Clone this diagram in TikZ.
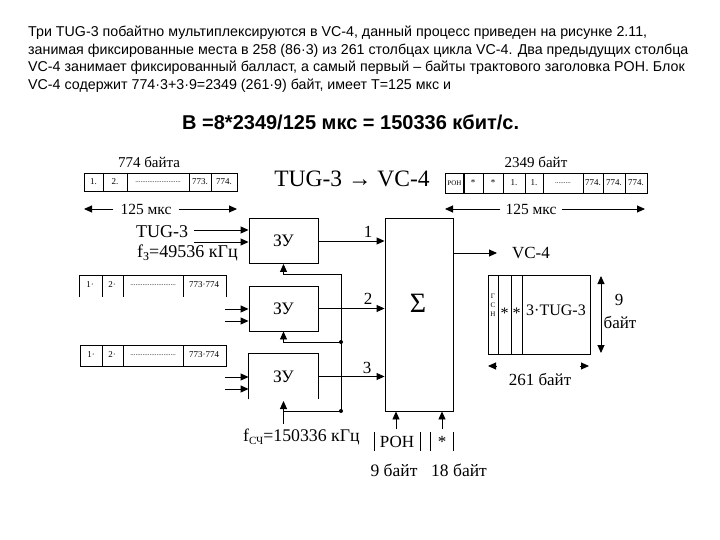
\documentclass[tikz,border=0pt]{standalone}
\usepackage{fontspec}
\setmainfont{Liberation Serif}
\newfontfamily\arialf{Liberation Sans}
\usetikzlibrary{arrows.meta}
\begin{document}
\begin{tikzpicture}[x=1pt,y=-1pt,
  ln/.style={line width=0.9pt},
  arr/.style={ln,-{Triangle[length=8pt,width=7pt]}},
  dar/.style={ln,{Triangle[length=8pt,width=7pt]}-{Triangle[length=8pt,width=7pt]}},
  para/.style={anchor=west,inner sep=0pt,font=\arialf\fontsize{14.25}{14.25}\selectfont},
  lbl/.style={inner sep=0pt,font=\fontsize{17}{17}\selectfont},
  big/.style={inner sep=0pt,font=\fontsize{18}{18}\selectfont},
  cell/.style={inner sep=0pt,font=\fontsize{9}{9}\selectfont},
  tiny/.style={inner sep=0pt,font=\fontsize{7}{7}\selectfont},
  zu/.style={ln,minimum width=69pt,minimum height=45pt,inner sep=0pt,font=\fontsize{17.5}{17.5}\selectfont}]
\useasboundingbox (0,0) rectangle (720,540);
\fill[white] (0,0) rectangle (720,540);
% paragraph
\node[para] (p1) at (28,33) {Три TUG-3 побайтно мультиплексируются в VC-4, данный процесс приведен на рисунке 2.11,};
\node[para] (p2) at (28,50.5) {занимая фиксированные места в 258 (86·3) из 261 столбцах цикла VC-4. Два предыдущих столбца};
\node[para] (p3) at (28,68) {VC-4 занимает фиксированный балласт, а самый первый – байты трактового заголовка POH. Блок};
\node[para] (p4) at (28,85.5) {VC-4 содержит 774·3+3·9=2349 (261·9) байт, имеет T=125 мкс и};
\node[anchor=west,inner sep=0pt,font=\arialf\bfseries\fontsize{20}{20}\selectfont] (bw) at (182,122) {В =8*2349/125 мкс = 150336 кбит/с.};
% title
\node[inner sep=0pt,font=\fontsize{23.5}{23.5}\selectfont] (ttl) at (352,179) {TUG-3 → VC-4};
% left top frame
\node[lbl,font=\fontsize{15}{15}\selectfont] (l774) at (149,162) {774 байта};
\draw[ln] (84,173) rectangle (237,191);
\foreach \x in {103,127,189,211} \draw[ln] (\x,173) -- (\x,191);
\node[cell] (c11) at (93.5,182) {1.};
\node[cell] (c12) at (115,182) {2.};
\node[tiny] (c13) at (158,182) {..........................};
\node[cell] (c14) at (200,182) {773.};
\node[cell] (c15) at (224,182) {774.};
\node[lbl,font=\fontsize{15.5}{15.5}\selectfont] (t125a) at (146,209) {125 мкс};
\coordinate (a1l) at (84,209); \coordinate (a1r) at (237,209);
\draw[arr] (t125a.west) ++(-7,0) -- (a1l);
\draw[arr] (t125a.east) ++(7,0) -- (a1r);
% right top frame
\node[lbl,font=\fontsize{15}{15}\selectfont] (l2349) at (536,162) {2349 байт};
\draw[ln] (445,173) rectangle (647,193);
\draw[line width=2pt] (464,173) -- (464,193);
\foreach \x in {483,503,525,543,583,603,625} \draw[ln] (\x,173) -- (\x,193);
\node[tiny] (r1) at (454.5,183) {РОН};
\node[cell] (r2) at (473,183) {*};
\node[cell] (r3) at (493,183) {*};
\node[cell] (r4) at (514,183) {1.};
\node[cell] (r5) at (534,183) {1.};
\node[tiny] (r6) at (563,183) {.........};
\node[cell] (r7) at (593,183) {774.};
\node[cell] (r8) at (614,183) {774.};
\node[cell] (r9) at (636,183) {774.};
\node[lbl,font=\fontsize{15.5}{15.5}\selectfont] (t125b) at (531,209) {125 мкс};
\coordinate (a2l) at (445,209); \coordinate (a2r) at (645,209);
\draw[arr] (t125b.west) ++(-5,0) -- (a2l);
\draw[arr] (t125b.east) ++(5,0) -- (a2r);
% TUG-3 labels
\node[big,anchor=west] (tug) at (136,232) {TUG-3};
\node[big,anchor=west] (f3) at (137,253) {f\raisebox{-0.35ex}{\fontsize{12}{12}\selectfont З}=49536 кГц};
% frames 2 and 3
\draw[ln] (79,297) -- (79,275) -- (226,275) -- (226,297);
\foreach \x in {102,123,183} \draw[ln] (\x,275) -- (\x,297);
\node[cell] (d21) at (90,285) {1·};
\node[cell] (d22) at (112,285) {2·};
\node[tiny] (d23) at (153,285) {..........................};
\node[cell] (d24) at (204,285) {773·774};
\draw[ln] (80,345) rectangle (226,366);
\foreach \x in {102,123,183} \draw[ln] (\x,345) -- (\x,366);
\node[cell] (d31) at (91,355) {1·};
\node[cell] (d32) at (112,355) {2·};
\node[tiny] (d33) at (153,355) {..........................};
\node[cell] (d34) at (204,355) {773·774};
% memory blocks
\node[zu,draw] (zu1) at (283.5,241) {ЗУ};
\node[zu,draw] (zu2) at (283.5,308.5) {ЗУ};
\node[zu] (zu3) at (283.5,376.5) {ЗУ};
\draw[ln] (zu3.south west) -- (zu3.north west) -- (zu3.north east) -- (zu3.south east);
% sum block
\node[draw,ln,minimum width=68pt,minimum height=193pt,inner sep=0pt] (sum) at (419,314.5) {};
\node[inner sep=0pt,font=\fontsize{28}{28}\selectfont] (sig) at (418,303) {Σ};
% inputs
\coordinate (i1a) at (194,230); \coordinate (i1b) at (194,242);
\coordinate (i2a) at (225,309); \coordinate (i2b) at (225,321);
\coordinate (i3a) at (225,377); \coordinate (i3b) at (225,389);
\foreach \c in {i1a,i1b} \draw[arr] (\c) -- (\c -| zu1.west);
\foreach \c in {i2a,i2b} \draw[arr] (\c) -- (\c -| zu2.west);
\foreach \c in {i3a,i3b} \draw[arr] (\c) -- (\c -| zu3.west);
% outputs
\draw[arr] (zu1.east) -- (zu1.east -| sum.west);
\draw[arr] (zu2.east) -- (zu2.east -| sum.west);
\draw[arr] (zu3.east) -- (zu3.east -| sum.west);
\node[lbl] (n1) at (368,232) {1};
\node[lbl] (n2) at (368,299) {2};
\node[lbl] (n3) at (367,368) {3};
% clock
\coordinate (ck) at (341,274); \coordinate (j2) at (341,342); \coordinate (j3) at (341,411);
\coordinate (fc) at (283.5,424);
\draw[ln] (ck) -- (j3);
\draw[arr] (ck) -| (zu1.south);
\draw[arr] (j2) -| (zu2.south);
\draw[ln] (j3) -- (j3 -| fc);
\draw[arr] (fc) -- ++(0,-23);
\fill (j2) circle (2pt);
\fill (j3) circle (2pt);
\node[lbl,anchor=west,font=\fontsize{17.8}{17.8}\selectfont] (fcl) at (243,437) {f\raisebox{-0.35ex}{\fontsize{11}{11}\selectfont СЧ}=150336 кГц};
% POH and stuffing inputs
\draw[ln] (374,432) -- (374,451);
\draw[ln] (420,432) -- (420,451);
\node[lbl] (poh) at (397,442) {РОН};
\draw[ln] (430,432) -- (430,451);
\draw[ln] (453,432) -- (453,451);
\node[lbl] (st) at (442,442) {*};
\coordinate (ph) at (396,429); \coordinate (sp) at (442,429);
\draw[arr] (ph) -- (ph |- sum.south);
\draw[arr] (sp) -- (sp |- sum.south);
\node[lbl,font=\fontsize{17.5}{17.5}\selectfont] (b9) at (394,470) {9 байт};
\node[lbl,font=\fontsize{17.5}{17.5}\selectfont] (b18) at (459,470) {18 байт};
% VC-4 output
\coordinate (vo) at (497,253);
\draw[arr] (sum.east |- vo) -- (vo);
\node[lbl] (vc4) at (531,253) {VC-4};
% VC-4 structure
\draw[ln] (488,275) rectangle (590,354);
\foreach \x in {498,511,522} \draw[ln] (\x,275) -- (\x,354);
\node[tiny] (g1) at (493,296) {Г};
\node[tiny] (g2) at (493,305) {С};
\node[tiny] (g3) at (493,314) {Н};
\node[lbl,font=\fontsize{16}{16}\selectfont] (s1) at (504.5,313) {*};
\node[lbl,font=\fontsize{16}{16}\selectfont] (s2) at (516.5,313) {*};
\node[lbl,font=\fontsize{16}{16}\selectfont] (t3) at (556,310) {3·TUG-3};
\coordinate (va) at (601,276); \coordinate (vb) at (601,353);
\draw[dar] (va) -- (vb);
\node[lbl] (n9) at (619,300) {9};
\node[lbl] (nb) at (620,322) {байт};
\coordinate (hl) at (488,366); \coordinate (hr) at (589,366);
\draw[arr] (hl) ++(9,0) -- (hl);
\draw[arr] (hr) ++(-9,0) -- (hr);
\node[lbl] (n261) at (540,379) {261 байт};
\end{tikzpicture}
\end{document}
